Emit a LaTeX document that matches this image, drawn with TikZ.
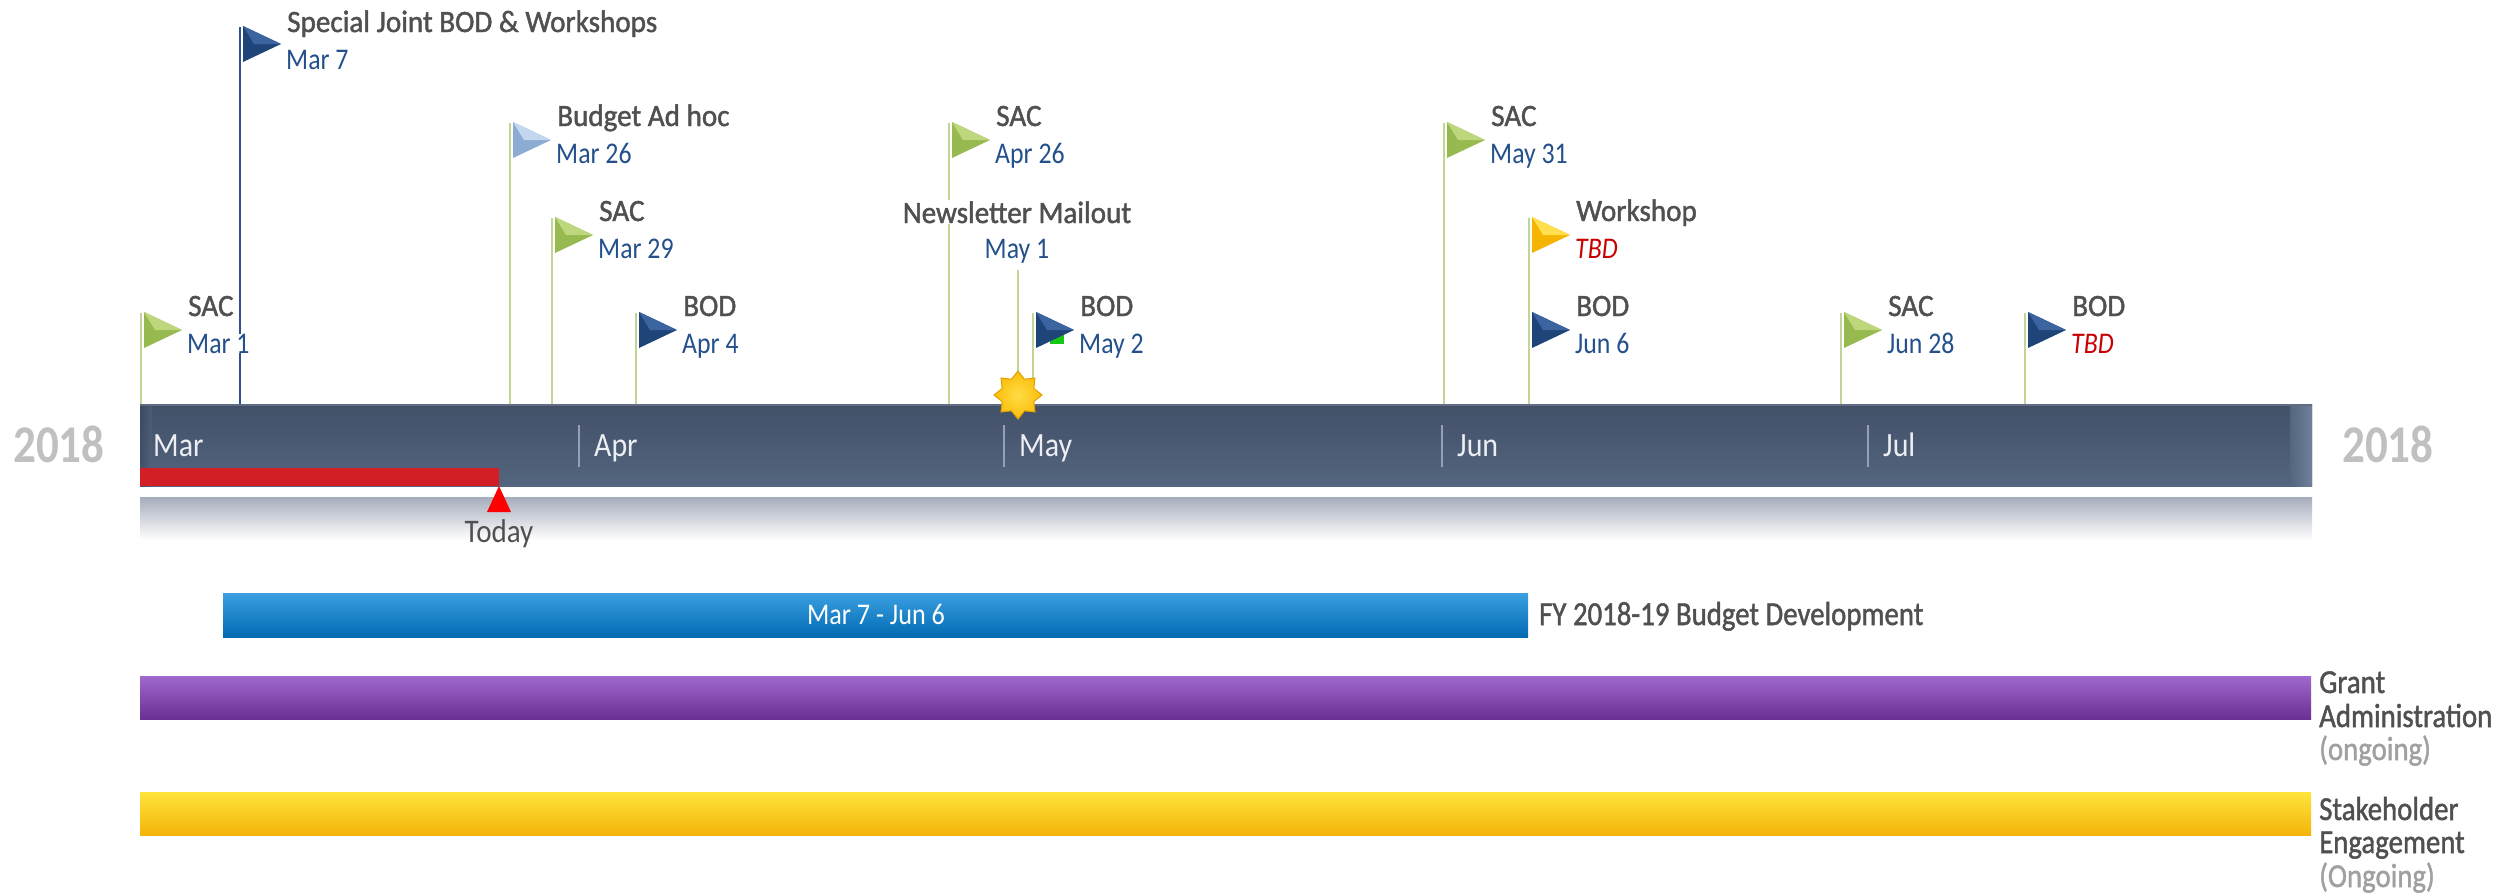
\documentclass[tikz,border=0pt]{standalone}
\usepackage{fontspec}
\setmainfont{Carlito}
\newfontfamily\semib{Carlito}[FakeBold=1.5]
\usetikzlibrary{shapes.geometric}
\definecolor{titlegray}{RGB}{80,80,80}
\definecolor{dateblue}{RGB}{36,80,140}
\definecolor{tbdred}{RGB}{200,0,0}
\definecolor{monthwhite}{RGB}{235,238,242}
\definecolor{yeargray}{RGB}{192,192,192}
\definecolor{ongray}{RGB}{160,160,160}
\definecolor{polegreen}{RGB}{192,213,150}
\definecolor{polenavy}{RGB}{45,82,145}
\definecolor{bartop}{RGB}{66,80,104}
\definecolor{barbot}{RGB}{84,101,126}
\definecolor{barend}{RGB}{112,128,154}
\definecolor{barleft}{RGB}{55,68,92}
\definecolor{barline}{RGB}{95,108,130}
\definecolor{shadowtop}{RGB}{166,172,188}
\definecolor{sepgray}{RGB}{150,160,178}
\definecolor{todayred}{RGB}{212,30,38}
\definecolor{artgreen}{RGB}{20,200,20}
\definecolor{gbase}{RGB}{150,185,80}
\definecolor{glight}{RGB}{190,215,125}
\definecolor{nbase}{RGB}{31,68,120}
\definecolor{nlight}{RGB}{60,100,160}
\definecolor{lbbase}{RGB}{140,172,212}
\definecolor{lblight}{RGB}{195,215,238}
\definecolor{ybase}{RGB}{245,180,0}
\definecolor{ylight}{RGB}{255,222,80}
\definecolor{stardraw}{RGB}{225,160,0}
\definecolor{starin}{RGB}{255,220,70}
\definecolor{starout}{RGB}{250,190,10}
\definecolor{bluetop}{RGB}{60,160,226}
\definecolor{bluemid}{RGB}{14,120,194}
\definecolor{bluebot}{RGB}{0,106,178}
\definecolor{purtop}{RGB}{160,105,205}
\definecolor{purmid}{RGB}{118,60,165}
\definecolor{purbot}{RGB}{106,48,148}
\definecolor{yeltop}{RGB}{255,228,60}
\definecolor{yelmid}{RGB}{250,195,20}
\definecolor{yelbot}{RGB}{244,180,10}
\newcommand\sx[2]{\scalebox{#1}[1]{#2}}
\newcommand\poleline[4]{%
  \coordinate (#1-top) at (#2,#3);
  \coordinate (#1-foot) at (#2,404);
  \draw[pole,draw=#4] (#1-top) -- (#1-foot);}
\newcommand\flagtri[5]{%
  \fill[#4] (#2+3,#3-1) -- (#2+41,#3+17) -- (#2+3,#3+35) -- cycle;
  \fill[#5] (#2+3,#3-1) -- (#2+41,#3+17) -- (#2+14,#3+17) -- cycle;}
\newcommand\flagtext[5]{%
  \node[ttl] (#1-t) at (#2+47,#3+3) {\sx{0.94}{#4}};
  \node[dte] (#1-d) at (#2+46,#3+40) {#5};}
\begin{document}
\begin{tikzpicture}[x=1pt,y=-1pt,
  pole/.style={line width=2pt},
  ttl/.style={anchor=base west,inner sep=0pt,text=titlegray,font=\fontsize{31}{31}\semib},
  dte/.style={anchor=base west,inner sep=0pt,fill=white,text=dateblue,font=\fontsize{30}{30}\selectfont},
  month/.style={anchor=base west,inner sep=0pt,text=monthwhite,font=\fontsize{34}{34}\selectfont},
  year/.style={anchor=base west,inner sep=0pt,text=yeargray,font=\fontsize{53}{53}\selectfont\bfseries},
  lbl/.style={anchor=base west,inner sep=0pt,text=titlegray,font=\fontsize{33.5}{33.5}\semib},
  lblg/.style={anchor=base west,inner sep=0pt,text=ongray,font=\fontsize{33.5}{33.5}\semib},
  sep/.style={draw=sepgray,line width=1.5pt}]
\useasboundingbox (0,0) rectangle (2517,894);
% shadow under the main bar
\shade[top color=shadowtop,bottom color=white] (140,497) rectangle (2312,540);
% main bar
\shade[top color=bartop,bottom color=barbot] (140,404) rectangle (2312,486);
\shade[left color=barleft,right color=barbot,opacity=0.6] (140,404) rectangle (152,486);
\shade[left color=barbot,right color=barend] (2290,404) rectangle (2312,486);
\draw[draw=barline,line width=1.5pt] (140,405) -- (2312,405);
% poles
\poleline{f1}{141}{313}{polegreen}
\poleline{f2}{240}{27}{polenavy}
\poleline{f3}{510}{123}{polegreen}
\poleline{f4}{552}{218}{polegreen}
\poleline{f5}{636}{313}{polegreen}
\poleline{f6}{949}{123}{polegreen}
\poleline{f7}{1033}{313}{polegreen}
\poleline{f8}{1444}{123}{polegreen}
\poleline{f9}{1529}{218}{polegreen}
\poleline{f10}{1529}{313}{polegreen}
\poleline{f11}{1841}{313}{polegreen}
\poleline{f12}{2025}{313}{polegreen}
\coordinate (nl-top) at (1018,270);
\coordinate (nl-foot) at (1018,395);
\draw[pole,draw=polegreen] (nl-top) -- (nl-foot);
% today marker
\fill[todayred] (140,468) rectangle (499,486);
\coordinate (today) at (499,486);
\fill[red] (today) -- (487,512) -- (511,512) -- cycle;
\node[anchor=base,inner sep=0pt,text=titlegray,font=\fontsize{33}{33}\selectfont] (todaylbl) at (499,542) {\sx{0.88}{Today}};
% month separators and labels
\foreach \n/\x in {apr/579,may/1004,jun/1442,jul/1868}{
  \coordinate (\n-s1) at (\x,425);
  \coordinate (\n-s2) at (\x,467);
  \draw[sep] (\n-s1) -- (\n-s2);}
\node[month] (mar) at (153,456) {\sx{0.88}{Mar}};
\node[month] (apr) at (594,456) {\sx{0.88}{Apr}};
\node[month] (may) at (1019,456) {\sx{0.88}{May}};
\node[month] (jun) at (1457,456) {\sx{0.88}{Jun}};
\node[month] (jul) at (1883,456) {\sx{0.88}{Jul}};
\node[year] (yl) at (13,462) {\sx{0.85}{2018}};
\node[year] (yr) at (2342,462) {\sx{0.85}{2018}};
% flags
\fill[artgreen] (1050,332) rectangle (1064,344);
\flagtri{f1}{141}{313}{gbase}{glight}
\flagtri{f2}{240}{27}{nbase}{nlight}
\flagtri{f3}{510}{123}{lbbase}{lblight}
\flagtri{f4}{552}{218}{gbase}{glight}
\flagtri{f5}{636}{313}{nbase}{nlight}
\flagtri{f6}{949}{123}{gbase}{glight}
\flagtri{f7}{1033}{313}{nbase}{nlight}
\flagtri{f8}{1444}{123}{gbase}{glight}
\flagtri{f9}{1529}{218}{ybase}{ylight}
\flagtri{f10}{1529}{313}{nbase}{nlight}
\flagtri{f11}{1841}{313}{gbase}{glight}
\flagtri{f12}{2025}{313}{nbase}{nlight}
\flagtext{f1}{141}{313}{SAC}{\sx{0.86}{Mar 1}}
\flagtext{f2}{240}{29}{Special Joint BOD \& Workshops}{\sx{0.86}{Mar 7}}
\flagtext{f3}{510}{123}{Budget Ad hoc}{\sx{0.86}{Mar 26}}
\flagtext{f4}{552}{218}{SAC}{\sx{0.86}{Mar 29}}
\flagtext{f5}{636}{313}{BOD}{\sx{0.86}{Apr 4}}
\flagtext{f6}{949}{123}{SAC}{\sx{0.86}{Apr 26}}
\flagtext{f7}{1033}{313}{BOD}{\sx{0.86}{May 2}}
\flagtext{f8}{1444}{123}{SAC}{\sx{0.86}{May 31}}
\flagtext{f9}{1529}{218}{Workshop}{\textcolor{tbdred}{\itshape\sx{0.86}{TBD}}}
\flagtext{f10}{1529}{313}{BOD}{\sx{0.86}{Jun 6}}
\flagtext{f11}{1841}{313}{SAC}{\sx{0.86}{Jun 28}}
\flagtext{f12}{2025}{313}{BOD}{\textcolor{tbdred}{\itshape\sx{0.86}{TBD}}}
% newsletter milestone
\node[anchor=base,inner sep=1pt,fill=white,text=titlegray,font=\fontsize{31}{31}\semib] (nl-t) at (1017,223) {\sx{0.94}{Newsletter Mailout}};
\node[anchor=base,inner sep=0pt,text=dateblue,font=\fontsize{30}{30}\selectfont] (nl-d) at (1017,258) {\sx{0.86}{May 1}};
\node[star,star points=8,star point ratio=1.4,minimum size=48pt,inner sep=0pt,
  draw=stardraw,line width=1pt,inner color=starin,outer color=starout] (star) at (1018,395) {};
% lower bars
\shade[top color=bluetop,middle color=bluemid,bottom color=bluebot] (223,593) rectangle (1528,637);
\node[anchor=base,inner sep=0pt,text=white,font=\fontsize{30}{30}\selectfont] (bud-in) at (876,624) {\sx{0.87}{Mar 7 - Jun 6}};
\node[lbl] (bud) at (1539,625) {\sx{0.86}{FY 2018-19 Budget Development}};
\shade[top color=purtop,middle color=purmid,bottom color=purbot] (140,676) rectangle (2311,719);
\node[lbl] (ga1) at (2319,693) {\sx{0.86}{Grant}};
\node[lbl] (ga2) at (2319,727) {\sx{0.86}{Administration}};
\node[lblg] (ga3) at (2319,760) {\sx{0.86}{(ongoing)}};
\shade[top color=yeltop,middle color=yelmid,bottom color=yelbot] (140,792) rectangle (2311,835);
\node[lbl] (se1) at (2319,820) {\sx{0.86}{Stakeholder}};
\node[lbl] (se2) at (2319,853) {\sx{0.86}{Engagement}};
\node[lblg] (se3) at (2319,887) {\sx{0.86}{(Ongoing)}};
\end{tikzpicture}
\end{document}
